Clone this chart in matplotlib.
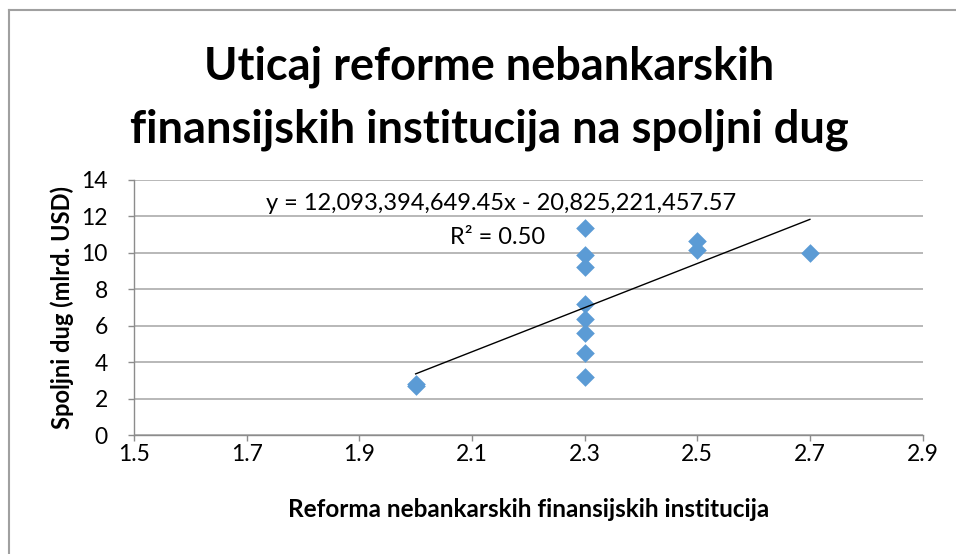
import matplotlib.pyplot as plt
from matplotlib.lines import Line2D

# reform index vs. external debt (bn USD)
reforma = [2.0, 2.0, 2.3, 2.3, 2.3, 2.3, 2.3, 2.3, 2.3, 2.3, 2.5, 2.5, 2.7]
dug = [2.68, 2.78, 11.34, 9.87, 9.20, 7.18, 6.35, 5.58, 4.49, 3.17, 10.64, 10.15, 9.97]

# linear trend as reported (USD), plotted in billions
slope = 12093394649.45
intercept = -20825221457.57
r2 = 0.50
x_ticks = [1.5, 1.7, 1.9, 2.1, 2.3, 2.5, 2.7, 2.9]
y_ticks = [0, 2, 4, 6, 8, 10, 12, 14]

plt.rcParams['font.family'] = ['Lato', 'DejaVu Sans']

fig = plt.figure(figsize=(9.56, 5.54), dpi=100)
ax = fig.add_axes([0.1402, 0.2144, 0.965 - 0.1402, 0.6756 - 0.2144])

ax.scatter(reforma, dug, marker='D', s=9.5 ** 2, color='#5B9BD5', zorder=3, linewidths=0)

x0, x1 = min(reforma), max(reforma)
ax.plot([x0, x1], [(slope * x0 + intercept) / 1e9, (slope * x1 + intercept) / 1e9],
        color='black', linewidth=1, zorder=4)

ax.text(2.151, 12.67, f"y = {slope:,.2f}x - {abs(intercept):,.2f}",
        fontsize=17, ha='center', va='center')
ax.text(2.146, 10.86, f"R² = {r2:.2f}", fontsize=17, ha='center', va='center')

ax.set_xlim(1.5, 2.9)
ax.set_ylim(0, 14)
ax.set_xticks(x_ticks)
ax.set_xticklabels([f"{v:.1f}" for v in x_ticks])
ax.set_yticks(y_ticks)
ax.grid(axis='y', color='#ABABAB', linewidth=1.2)
ax.set_axisbelow(True)
for side in ['top', 'right']:
    ax.spines[side].set_visible(False)
for side in ['left', 'bottom']:
    ax.spines[side].set_color('#8C8C8C')
    ax.spines[side].set_linewidth(1)
ax.tick_params(axis='both', colors='#8C8C8C', labelcolor='black', labelsize=16.5,
               length=4, width=1)
ax.tick_params(axis='x', pad=2)
ax.tick_params(axis='y', pad=15)

ax.set_xlabel('Reforma nebankarskih finansijskih institucija', fontsize=17.5,
              fontweight='bold', labelpad=24)
ax.set_ylabel('Spoljni dug (mlrd. USD)', fontsize=17, fontweight='bold', labelpad=5)

fig.text(0.512, 0.823, 'Uticaj reforme nebankarskih\nfinansijskih institucija na spoljni dug',
         fontsize=32.5, fontweight='bold', ha='center', va='center', linespacing=1.6)

# chart frame (top and left edges)
fig.add_artist(Line2D([8.5 / 956, 1], [1 - 9.5 / 554] * 2, color='#A0A0A0', linewidth=1.5))
fig.add_artist(Line2D([8.5 / 956] * 2, [0, 1 - 9.5 / 554], color='#A0A0A0', linewidth=1.5))

fig.savefig('out.png', dpi=100)
